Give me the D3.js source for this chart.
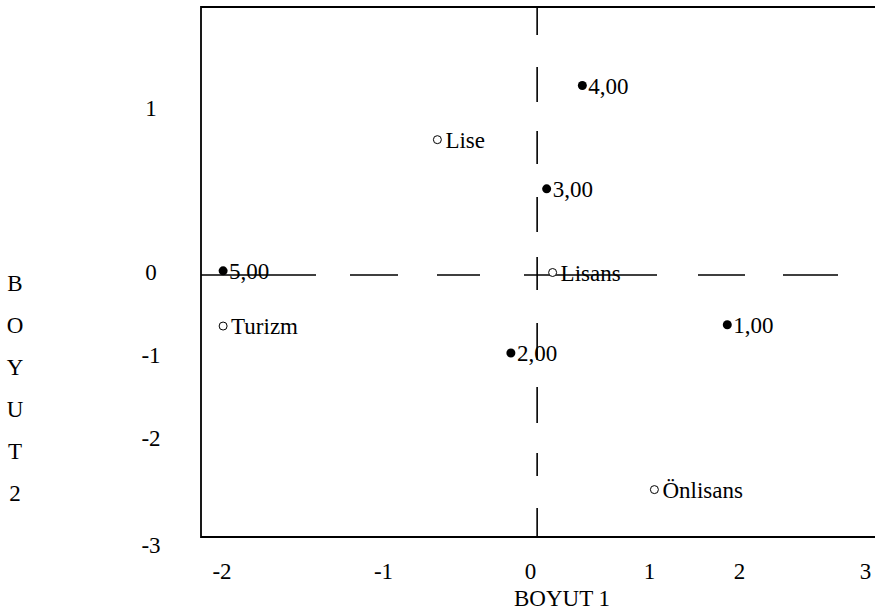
<!DOCTYPE html>
<html>
<head>
<meta charset="utf-8">
<script src="https://cdn.jsdelivr.net/npm/d3@7"></script>
<style>
  html, body { margin: 0; padding: 0; background: #fff; }
  svg { display: block; font-family: "Liberation Serif", "Times New Roman", serif; }
  text { font-family: "Liberation Serif", "Times New Roman", serif; fill: #000; }
</style>
</head>
<body>
<svg id="chart" width="875" height="610"></svg>
<script>
// ---- data ----
const rowLabels = ["1,00", "2,00", "3,00", "4,00", "5,00"];
const rowX = [1.87, -0.13, 0.14, 0.44, -1.99];
const rowY = [-0.63, -0.97, 0.51, 1.14, 0.01];

const colLabels = ["Turizm", "Lise", "Lisans", "Önlisans"];
const colX = [-1.99, -0.63, 0.19, 1.06];
const colY = [-0.645, 0.81, 0.00, -2.48];

const xTicks = [-2, -1, 0, 1, 2, 3];
const xTickLabels = ["-2", "-1", "0", "1", "2", "3"];
const yTicks = [1, 0, -1, -2, -3];
const yTickLabels = ["1", "0", "-1", "-2", "-3"];

const refX = [0.06];
const refY = [-0.03];

const xTitle = "BOYUT 1";
const yTitle = "BOYUT2";

// ---- layout ----
const FONT = '"Liberation Serif", "Times New Roman", serif';
const svg = d3.select("#chart");
const frame = { left: 201, top: 7, right: 875, bottom: 537 };
const fontSize = 23;

// piecewise scales matching the uneven tick placement of the original
const x = d3.scaleLinear().domain(xTicks).range([221.5, 383, 530, 649, 739, 865]);
const y = d3.scaleLinear().domain(yTicks).range([108.5, 272.5, 355.5, 438, 545.5]);

// reference lines
svg.selectAll("line.refx").data(refX).join("line")
  .attr("class", "refx")
  .attr("x1", d => x(d)).attr("x2", d => x(d))
  .attr("y1", frame.top).attr("y2", frame.bottom)
  .attr("stroke", "#000").attr("stroke-width", 1.6)
  .attr("stroke-dasharray", "28,32,35,29,33,33,35,25,33,33,37,27,36,30,23,32,29");

svg.selectAll("line.refy").data(refY).join("line")
  .attr("class", "refy")
  .attr("x1", frame.left).attr("x2", 838)
  .attr("y1", d => y(d)).attr("y2", d => y(d))
  .attr("stroke", "#000").attr("stroke-width", 1.3)
  .attr("stroke-dasharray", "115,34,48,39,43,44,133,41,47,38,56,200");

// frame (left, top, bottom)
svg.append("path")
  .attr("d", `M${frame.right},${frame.top}H${frame.left}V${frame.bottom}H${frame.right}`)
  .attr("fill", "none").attr("stroke", "#000").attr("stroke-width", 1.8);

// axes
const xAxis = svg.append("g")
  .attr("transform", `translate(0,${frame.bottom})`)
  .call(d3.axisBottom(x).tickValues(xTicks).tickSize(0).tickPadding(26)
    .tickFormat((d, i) => xTickLabels[i]));
xAxis.attr("font-family", null).attr("font-size", null);
xAxis.select(".domain").remove();
xAxis.selectAll("text").style("font-family", FONT)
  .style("font-size", fontSize + "px").attr("fill", "#000");

const yAxis = svg.append("g")
  .attr("transform", `translate(${frame.left},0)`)
  .call(d3.axisLeft(y).tickValues(yTicks).tickSize(0)
    .tickFormat((d, i) => yTickLabels[i]));
yAxis.attr("font-family", null).attr("font-size", null);
yAxis.select(".domain").remove();
yAxis.selectAll("text").attr("x", -50).attr("text-anchor", "middle")
  .style("font-family", FONT)
  .style("font-size", fontSize + "px").attr("fill", "#000");

// axis titles
svg.append("text")
  .attr("x", 562).attr("y", 598).attr("dy", "0.35em")
  .attr("text-anchor", "middle")
  .style("font-family", FONT).style("font-size", fontSize + "px")
  .text(xTitle);

svg.selectAll("text.ytitle").data(yTitle.split("")).join("text")
  .attr("class", "ytitle")
  .attr("x", 15).attr("y", (d, i) => 283 + i * 42).attr("dy", "0.35em")
  .attr("text-anchor", "middle")
  .style("font-family", FONT).style("font-size", fontSize + "px")
  .text(d => d);

// points
const rows = rowLabels.map((l, i) => ({ label: l, x: rowX[i], y: rowY[i] }));
const cols = colLabels.map((l, i) => ({ label: l, x: colX[i], y: colY[i] }));

svg.selectAll("circle.row").data(rows).join("circle")
  .attr("class", "row")
  .attr("cx", d => x(d.x)).attr("cy", d => y(d.y)).attr("r", 4.5)
  .attr("fill", "#000");
svg.selectAll("text.row").data(rows).join("text")
  .attr("class", "row")
  .attr("x", d => x(d.x) + 6).attr("y", d => y(d.y)).attr("dy", "0.35em")
  .style("font-family", FONT).style("font-size", fontSize + "px")
  .text(d => d.label);

svg.selectAll("circle.col").data(cols).join("circle")
  .attr("class", "col")
  .attr("cx", d => x(d.x)).attr("cy", d => y(d.y)).attr("r", 4)
  .attr("fill", "#fff").attr("stroke", "#000").attr("stroke-width", 1);
svg.selectAll("text.col").data(cols).join("text")
  .attr("class", "col")
  .attr("x", d => x(d.x) + 8).attr("y", d => y(d.y)).attr("dy", "0.35em")
  .style("font-family", FONT).style("font-size", fontSize + "px")
  .text(d => d.label);
</script>
</body>
</html>
